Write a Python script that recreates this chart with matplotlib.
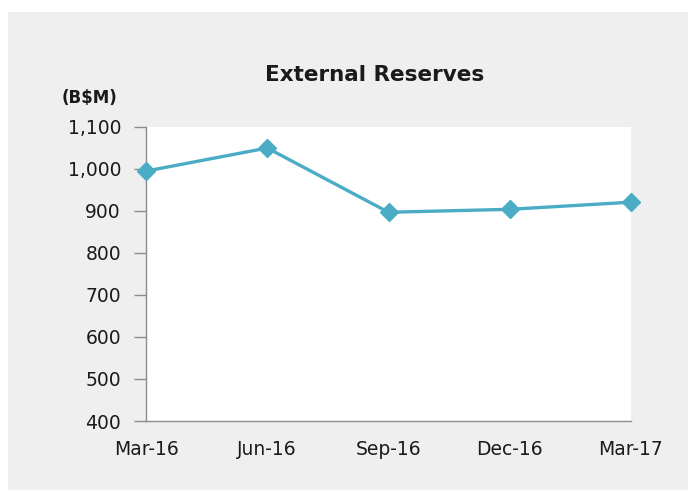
import matplotlib
matplotlib.use("Agg")
import matplotlib.pyplot as plt
from matplotlib.patches import Rectangle

categories = ["Mar-16", "Jun-16", "Sep-16", "Dec-16", "Mar-17"]
reserves = [995, 1050, 897, 904, 921]
yticks = [400, 500, 600, 700, 800, 900, 1000, 1100]

plt.rcParams["font.family"] = ["DejaVu Sans"]

W, H = 688, 490
fig = plt.figure(figsize=(W / 100, H / 100), dpi=100)
fig.patch.set_facecolor("white")
bg = Rectangle((8 / W, 0), 1 - 8 / W, (H - 12) / H,
               transform=fig.transFigure, facecolor="#efefef",
               edgecolor="none", zorder=-10)
fig.add_artist(bg)

left, right, top, bottom = 146, 631, 127, 421
ax = fig.add_axes([left / W, (H - bottom) / H, (right - left) / W, (bottom - top) / H])
ax.set_zorder(1)
ax.set_facecolor("white")

x = list(range(len(categories)))
ax.plot(x, reserves, color="#4bacc6", lw=2.4, marker="D", markersize=9,
        markeredgecolor="#4bacc6", markerfacecolor="#4bacc6", clip_on=False, zorder=3)

ax.set_xlim(0, len(categories) - 1)
ax.set_ylim(400, 1100)
ax.set_yticks(yticks)
ax.set_yticklabels([f"{v:,}" for v in yticks])
ax.set_xticks(x)
ax.set_xticklabels(categories)

for s in ["top", "right"]:
    ax.spines[s].set_visible(False)
for s in ["left", "bottom"]:
    ax.spines[s].set_color("#8c8c8c")
    ax.spines[s].set_linewidth(1.0)

ax.tick_params(axis="y", length=9, width=1.0, color="#8c8c8c", pad=9,
               labelsize=13.5, labelcolor="#1a1a1a")
ax.tick_params(axis="x", length=0, pad=14, labelsize=13.5, labelcolor="#1a1a1a")

fig.text(375 / W, (H - 75) / H, "External Reserves", ha="center", va="center",
         fontsize=15.5, fontweight="bold", color="#1a1a1a")
fig.text(62 / W, (H - 98) / H, "(B$M)", ha="left", va="center",
         fontsize=12, fontweight="bold", color="#1a1a1a")

fig.savefig("out.png", dpi=100)
